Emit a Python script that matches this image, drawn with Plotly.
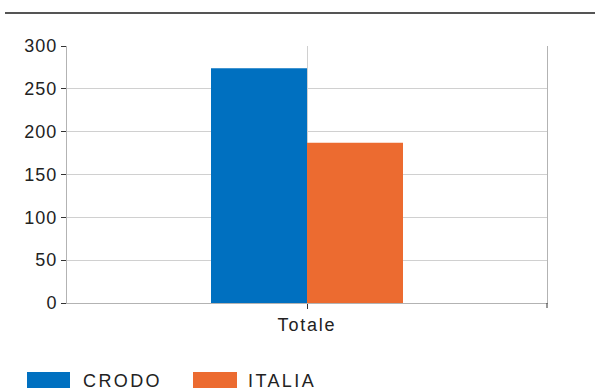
import plotly.graph_objects as go

categories = ["Totale"]
series_names = ["CRODO", "ITALIA"]
crodo_values = [274]
italia_values = [187]
series_colors = ["#0070C0", "#EC6B30"]
y_tickvals = [0, 50, 100, 150, 200, 250, 300]

W, H = 595, 392
L, R, T, B = 67, 48, 46, 89
pw, ph = W - L - R, H - T - B

def px_x(x):
    return (x - L) / pw

def px_y(y):
    return (H - B - y) / ph

def spaced(s, sp):
    return f'<span style="letter-spacing:{sp}px">{s}</span>'

FONT = "Liberation Sans, Arial, sans-serif"
TXT = "#222222"

fig = go.Figure()
for name, vals, col in zip(series_names, [crodo_values, italia_values], series_colors):
    fig.add_trace(go.Bar(x=categories, y=vals, name=name, marker=dict(color=col, line=dict(width=0)),
                         showlegend=False))

shapes = []
annotations = []
# top rule
shapes.append(dict(type="line", xref="paper", yref="paper", x0=px_x(5), x1=px_x(600),
                   y0=px_y(13), y1=px_y(13), line=dict(color="#555555", width=2)))
# tick at right edge of x axis
shapes.append(dict(type="line", xref="paper", yref="paper", x0=1, x1=1,
                   y0=0, y1=px_y(308), line=dict(color="#333333", width=1)))
# legend drawn manually (large swatches)
leg_items = [(27, 70, 81), (193, 237, 246)]
for (sx0, sx1, tx), name, col in zip(leg_items, series_names, series_colors):
    shapes.append(dict(type="rect", xref="paper", yref="paper", x0=px_x(sx0), x1=px_x(sx1),
                       y0=px_y(388), y1=px_y(372), fillcolor=col, line=dict(width=0)))
    annotations.append(dict(xref="paper", yref="paper", x=px_x(tx), y=px_y(381), text=spaced(name, 2.4),
                            showarrow=False, xanchor="left", yanchor="middle",
                            font=dict(family=FONT, size=18, color=TXT)))

fig.update_layout(
    width=W, height=H,
    margin=dict(l=L, r=R, t=T, b=B),
    paper_bgcolor="white", plot_bgcolor="white",
    barmode="group", bargap=0.6, bargroupgap=0,
    font=dict(family=FONT, size=18, color=TXT),
    shapes=shapes, annotations=annotations,
    showlegend=False,
    xaxis=dict(
        type="category", range=[-0.5, 0.5],
        tickvals=categories, ticktext=[spaced(c, 1.8) for c in categories],
        showgrid=True, gridcolor="#d0d0d0", gridwidth=1,
        showline=True, linecolor="#b3b3b3", linewidth=1,
        ticks="outside", ticklen=5, tickcolor="#333333",
        tickfont=dict(family=FONT, size=18, color=TXT),
        zeroline=False,
    ),
    yaxis=dict(
        range=[0, 300], tickvals=y_tickvals,
        ticktext=[spaced(str(v), 1) for v in y_tickvals],
        showgrid=True, gridcolor="#d0d0d0", gridwidth=1,
        showline=True, linecolor="#b3b3b3", linewidth=1, mirror=True,
        ticks="outside", ticklen=5, tickcolor="#333333",
        tickfont=dict(family=FONT, size=18, color=TXT),
        zeroline=False,
    ),
)

fig.write_html("out.html")
